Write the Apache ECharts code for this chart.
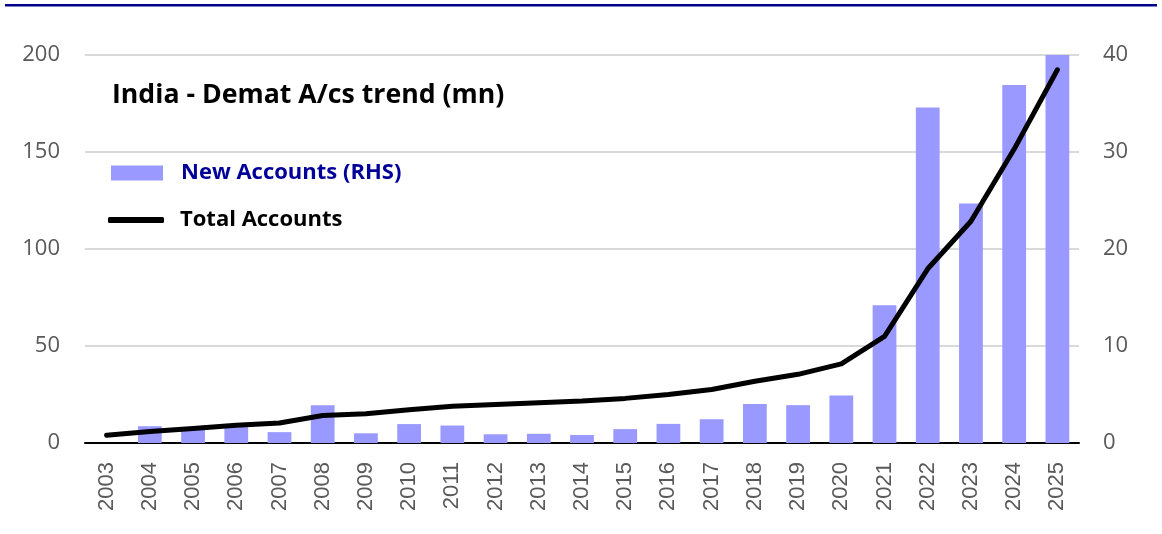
<!DOCTYPE html>
<html lang="en">
<head>
    <meta charset="UTF-8">
    <title>India - Demat A/cs trend</title>
    <script src="https://cdn.jsdelivr.net/npm/echarts@6/dist/echarts.min.js"></script>
    <style>
        html, body { margin: 0; padding: 0; background: #fff; }
        #main { width: 1162px; height: 534px; }
    </style>
</head>
<body>
<div id="main"></div>
<script>
    // years on the x axis
    var years = ['2003', '2004', '2005', '2006', '2007', '2008', '2009', '2010', '2011', '2012', '2013', '2014',
        '2015', '2016', '2017', '2018', '2019', '2020', '2021', '2022', '2023', '2024', '2025'];
    // new accounts per year (mn) -> right axis
    var newAccounts = ['-', 1.73, 1.4, 1.7, 1.12, 3.9, 1.0, 1.95, 1.8, 0.9, 0.95, 0.82,
        1.43, 1.97, 2.45, 4.03, 3.9, 4.9, 14.2, 34.6, 24.7, 36.9, 40.0];
    // total accounts (mn) -> left axis
    var totalAccounts = [4.0, 5.9, 7.5, 9.2, 10.3, 14.2, 15.1, 17.1, 18.9, 19.8, 20.8, 21.6,
        23.0, 25.0, 27.6, 31.8, 35.4, 40.8, 55.0, 89.8, 114.3, 151.5, 192.4];
    var leftTicks = [0, 200, 50];   // min, max, step
    var rightTicks = [0, 40, 10];

    var chartTitle = 'India - Demat A/cs trend (mn)';
    var barName = 'New Accounts (RHS)';
    var lineName = 'Total Accounts';

    var myChart = echarts.init(document.getElementById('main'), null, { renderer: 'canvas' });
    var labelFont = { color: '#595959', fontFamily: 'Open Sans', fontSize: 22 };
    var legendFont = { fontFamily: 'Open Sans', fontWeight: 'bold', fontSize: 22, padding: [0, 0, 0, 13] };

    var option = {
        animation: false,
        backgroundColor: '#ffffff',
        title: {
            text: chartTitle,
            left: 112,
            top: 82,
            padding: 0,
            textStyle: { fontFamily: 'Open Sans', fontWeight: 'bold', fontSize: 26.7, color: '#000000' }
        },
        legend: [
            {
                left: 111,
                top: 162,
                padding: 0,
                itemWidth: 52,
                itemHeight: 15,
                data: [{ name: barName, icon: 'rect',
                    textStyle: { color: '#000099' } }],
                textStyle: legendFont
            },
            {
                left: 108,
                top: 209,
                padding: 0,
                itemWidth: 56,
                itemHeight: 6,
                data: [{ name: lineName, icon: 'roundRect',
                    itemStyle: { color: '#000000' },
                    textStyle: { color: '#000000' } }],
                textStyle: Object.assign({}, legendFont, { padding: [0, 0, 0, 11] })
            }
        ],
        grid: { left: 85, right: 83, top: 55, bottom: 91, containLabel: false },
        xAxis: {
            type: 'category',
            data: years,
            axisLine: { lineStyle: { color: '#000000', width: 2 } },
            axisTick: { show: false },
            axisLabel: {
                rotate: 90,
                margin: 19,
                interval: 0,
                color: '#595959',
                fontFamily: 'Liberation Sans',
                fontSize: 22
            }
        },
        yAxis: [
            {
                type: 'value',
                position: 'left',
                min: leftTicks[0], max: leftTicks[1], interval: leftTicks[2],
                axisLine: { show: false },
                axisTick: { show: false },
                splitLine: { lineStyle: { color: '#d9d9d9', width: 2 } },
                axisLabel: Object.assign({ margin: 25 }, labelFont)
            },
            {
                type: 'value',
                position: 'right',
                min: rightTicks[0], max: rightTicks[1], interval: rightTicks[2],
                axisLine: { show: false },
                axisTick: { show: false },
                splitLine: { show: false },
                axisLabel: Object.assign({ margin: 24 }, labelFont)
            }
        ],
        series: [
            {
                name: barName,
                type: 'bar',
                yAxisIndex: 1,
                data: newAccounts,
                barWidth: '55%',
                itemStyle: { color: '#9999ff' },
                z: 2
            },
            {
                name: lineName,
                type: 'line',
                yAxisIndex: 0,
                data: totalAccounts,
                symbol: 'none',
                lineStyle: { color: '#000000', width: 5, cap: 'round', join: 'round' },
                itemStyle: { color: '#000000' },
                z: 3
            }
        ],
        graphic: [
            {   // navy rule across the top
                type: 'rect',
                left: 5, top: 4,
                shape: { width: 1152, height: 2.5 },
                style: { fill: '#00008b' }
            }
        ]
    };
    myChart.setOption(option);
</script>
</body>
</html>
